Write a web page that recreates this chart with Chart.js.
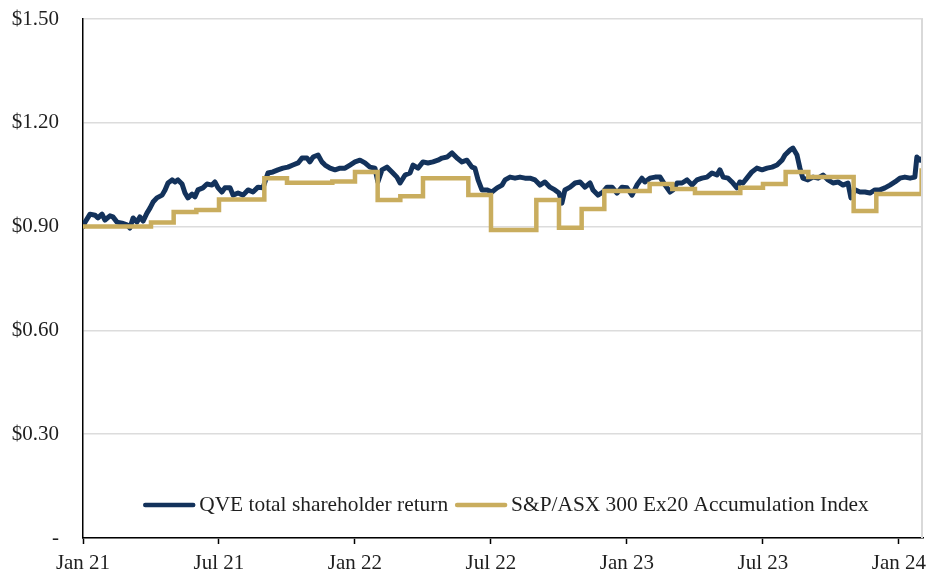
<!DOCTYPE html>
<html>
<head>
<meta charset="utf-8">
<script src="https://cdn.jsdelivr.net/npm/chart.js@4.4.1/dist/chart.umd.min.js"></script>
<style>
  html, body { margin: 0; padding: 0; background: #ffffff; }
  #wrap { width: 930px; height: 574px; position: relative; }
</style>
</head>
<body>
<div id="wrap"><canvas id="c" width="930" height="574"></canvas></div>
<script>
// ---- Data (x = months since Jan 2021) ----
const seriesNames = ["QVE total shareholder return", "S&P/ASX 300 Ex20 Accumulation Index"];
const tickMonths = [0, 6, 12, 18, 24, 30, 36];
const tickLabels = ["Jan 21", "Jul 21", "Jan 22", "Jul 22", "Jan 23", "Jul 23", "Jan 24"];
const yTicks = [0, 0.3, 0.6, 0.9, 1.2, 1.5];

const qveMonths = [0,0.09,0.31,0.53,0.66,0.84,0.97,1.19,1.32,1.50,
1.72,1.94,2.07,2.21,2.38,2.51,2.65,2.82,2.96,3.09,
3.26,3.49,3.62,3.75,3.93,4.06,4.19,4.37,4.50,4.63,
4.81,4.94,5.07,5.29,5.47,5.69,5.82,5.96,6.13,6.26,
6.49,6.62,6.84,7.06,7.28,7.50,7.72,7.94,8.16,8.38,
8.60,8.82,9.04,9.26,9.49,9.66,9.88,10.01,10.15,10.37,
10.54,10.68,10.90,11.12,11.34,11.56,11.78,12.00,12.22,12.44,
12.66,12.88,13.01,13.19,13.41,13.63,13.85,13.99,14.21,14.43,
14.56,14.78,15.00,15.22,15.44,15.66,15.84,16.06,16.28,16.50,
16.72,16.94,17.16,17.29,17.43,17.60,17.82,18.04,18.27,18.49,
18.62,18.84,19.06,19.28,19.50,19.72,19.94,20.16,20.38,20.60,
20.82,21.00,21.13,21.26,21.49,21.71,21.93,22.15,22.37,22.50,
22.72,22.94,23.12,23.34,23.56,23.78,24.00,24.22,24.44,24.66,
24.79,25.01,25.24,25.46,25.68,25.90,26.03,26.21,26.43,26.65,
26.87,27.09,27.31,27.53,27.75,27.97,28.10,28.24,28.46,28.63,
28.85,28.98,29.12,29.29,29.51,29.73,29.96,30.18,30.40,30.62,
30.84,30.97,31.19,31.32,31.50,31.63,31.76,31.98,32.21,32.43,
32.65,32.87,33.09,33.31,33.53,33.75,33.88,34.06,34.28,34.50,
34.72,34.94,35.16,35.38,35.60,35.82,36.04,36.26,36.49,36.70,
36.79,36.93,37.05];

const qveValues = [0.900,0.913,0.936,0.933,0.925,0.936,0.919,0.931,0.928,0.913,
0.910,0.905,0.896,0.925,0.913,0.928,0.916,0.939,0.954,0.971,
0.983,0.991,1.006,1.026,1.035,1.029,1.035,1.023,0.997,0.983,
0.994,0.986,1.006,1.012,1.023,1.020,1.029,1.012,1.000,1.012,
1.012,0.991,0.997,0.991,1.006,1.000,1.014,1.012,1.055,1.058,
1.064,1.069,1.072,1.078,1.084,1.098,1.098,1.087,1.101,1.107,
1.087,1.078,1.069,1.064,1.069,1.069,1.078,1.087,1.092,1.084,
1.072,1.069,1.029,1.064,1.072,1.058,1.043,1.026,1.049,1.055,
1.078,1.069,1.087,1.084,1.087,1.092,1.098,1.101,1.113,1.098,
1.087,1.092,1.072,1.069,1.035,1.006,1.006,1.000,1.012,1.020,
1.035,1.043,1.040,1.043,1.040,1.040,1.035,1.020,1.029,1.014,
1.006,0.997,0.968,1.006,1.014,1.026,1.029,1.014,1.026,1.006,
0.991,1.000,1.014,1.014,0.997,1.014,1.012,0.991,1.020,1.040,
1.029,1.040,1.043,1.043,1.020,1.000,1.006,1.026,1.026,1.035,
1.020,1.035,1.040,1.043,1.055,1.049,1.064,1.043,1.040,1.029,
1.012,1.029,1.026,1.040,1.058,1.069,1.064,1.069,1.072,1.078,
1.092,1.107,1.121,1.127,1.107,1.069,1.040,1.035,1.043,1.040,
1.049,1.035,1.026,1.029,1.020,1.026,0.983,1.006,1.000,1.000,
0.997,1.006,1.006,1.012,1.020,1.029,1.040,1.043,1.040,1.043,
1.101,1.092,1.098];

const indexMonths = [0,1,2,3,4,5,6,7,8,9,10,11,12,13,14,15,16,17,18,19,20,21,22,23,24,25,26,27,28,29,30,31,32,33,34,35,36,37];
const indexValues = [0.900,0.900,0.900,0.912,0.942,0.948,0.978,0.978,1.040,1.027,
1.027,1.030,1.058,0.977,0.988,1.040,1.040,0.991,0.890,0.890,
0.977,0.897,0.951,1.003,1.003,1.023,1.009,0.997,0.997,1.012,
1.023,1.058,1.043,1.043,0.945,0.994,0.994,1.069];

// ---- Styles ----
const NAVY = "#13325B";
const GOLD = "#C9AD5E";
const FONT = "'Liberation Serif', 'Times New Roman', serif";
const TEXT = "#1f1f1f";

const qvePoints = qveMonths.map((m, i) => ({ x: m, y: qveValues[i] }));
const idxPoints = indexMonths.map((m, i) => ({ x: m, y: indexValues[i] }));

const legendPlugin = {
  id: 'innerLegend',
  afterDraw(chart) {
    const ctx = chart.ctx;
    const ca = chart.chartArea;
    ctx.save();
    ctx.strokeStyle = '#d9d9d9';
    ctx.lineWidth = 2;
    ctx.beginPath();
    ctx.moveTo(ca.right - 1, ca.top);
    ctx.lineTo(ca.right - 1, ca.bottom);
    ctx.stroke();

    ctx.font = "21.4px " + FONT;
    ctx.textBaseline = 'middle';
    ctx.textAlign = 'left';
    const lineLen = 52, gapLT = 4, gapItems = 7;
    const items = chart.data.datasets.map(ds => ({ label: ds.label, color: ds.borderColor, w: ctx.measureText(ds.label).width }));
    let total = 0;
    items.forEach((it, i) => { total += lineLen + gapLT + it.w + (i < items.length - 1 ? gapItems : 0); });
    let x = (ca.left + ca.right) / 2 + 3 - total / 2;
    const y = 505;
    items.forEach(it => {
      ctx.strokeStyle = it.color;
      ctx.lineWidth = 4.5;
      ctx.lineCap = 'round';
      ctx.beginPath();
      ctx.moveTo(x + 2, y);
      ctx.lineTo(x + lineLen - 2, y);
      ctx.stroke();
      x += lineLen + gapLT;
      ctx.fillStyle = TEXT;
      ctx.fillText(it.label, x, y);
      x += it.w + gapItems;
    });
    ctx.restore();
  }
};

new Chart(document.getElementById('c'), {
  type: 'line',
  data: {
    datasets: [
      { label: seriesNames[0], data: qvePoints, borderColor: NAVY, backgroundColor: NAVY,
        borderWidth: 5, pointRadius: 0, tension: 0, borderJoinStyle: 'round', borderCapStyle: 'round', order: 1 },
      { label: seriesNames[1], data: idxPoints, borderColor: GOLD, backgroundColor: GOLD,
        borderWidth: 4.5, pointRadius: 0, stepped: true, borderJoinStyle: 'miter', order: 0 }
    ]
  },
  options: {
    responsive: false,
    animation: false,
    events: [],
    layout: { padding: { top: 19, right: 7, left: 0, bottom: 0 } },
    plugins: { legend: { display: false }, tooltip: { enabled: false } },
    scales: {
      x: {
        type: 'linear',
        min: 0,
        max: 37.06,
        afterBuildTicks: (scale) => { scale.ticks = tickMonths.map(v => ({ value: v })); },
        afterFit: (scale) => { scale.height = 36; scale.paddingLeft = 0; scale.paddingRight = 0; },
        ticks: {
          autoSkip: false,
          maxRotation: 0,
          padding: 7,
          color: TEXT,
          font: { family: FONT, size: 21 },
          callback: (v) => { const i = tickMonths.indexOf(v); return i >= 0 ? tickLabels[i] : ''; }
        },
        grid: { display: true, drawOnChartArea: false, drawTicks: true, tickLength: 6, tickColor: '#000', tickWidth: 1.5 },
        border: { display: true, color: '#000', width: 1.5 }
      },
      y: {
        min: 0,
        max: 1.5,
        afterBuildTicks: (scale) => { scale.ticks = yTicks.map(v => ({ value: v })); },
        afterFit: (scale) => { scale.width = 83; scale.paddingTop = 0; scale.paddingBottom = 0; },
        ticks: {
          padding: 24,
          color: TEXT,
          font: { family: FONT, size: 21 },
          callback: (v) => v === 0 ? '-' : '$' + Number(v).toFixed(2)
        },
        grid: { color: '#dcdcdc', lineWidth: 1.5, drawTicks: false },
        border: { display: true, color: '#000', width: 1.5 }
      }
    }
  },
  plugins: [legendPlugin]
});
</script>
</body>
</html>
